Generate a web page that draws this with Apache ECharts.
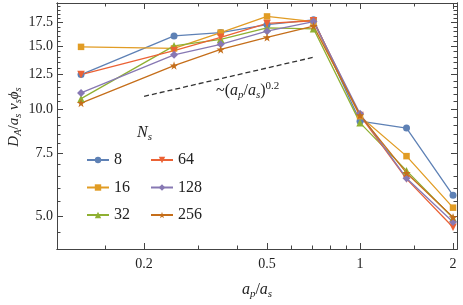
<!DOCTYPE html>
<html><head><meta charset="utf-8">
<script src="https://cdn.jsdelivr.net/npm/echarts@6/dist/echarts.min.js"></script>
<style>html,body{margin:0;padding:0;background:#fff}#c{width:463px;height:305px}</style>
</head><body><div id="c"></div>
<script>
// ---- data ----
const xValues = [0.125, 0.25, 0.354, 0.5, 0.707, 1, 1.414, 2];
const seriesNames = ['8', '16', '32', '64', '128', '256'];
const ns8   = [12.5, 16.05, 16.4, 17.25, 17.8, 9.25, 8.85, 5.73];
const ns16  = [14.95, 14.8, 16.4, 18.2, 17.6, 9.55, 7.38, 5.29];
const ns32  = [10.7, 15.05, 15.7, 16.9, 16.8, 9.15, 6.72, 4.95];
const ns64  = [12.5, 14.6, 15.9, 17.4, 17.7, 9.6, 6.37, 4.66];
const ns128 = [11.1, 14.2, 15.2, 16.55, 17.6, 9.7, 6.4, 4.82];
const ns256 = [10.4, 13.25, 14.7, 15.9, 17.1, 9.62, 6.62, 4.97];
const guideX = [0.2, 0.707];
const guideY = [10.86, 13.98];
const xMajorTicks = [0.2, 0.5, 1, 2];
const xMinorTicks = [0.15, 0.3, 0.4, 0.6, 0.7, 0.8, 0.9, 1.5];
const yMajorTicks = [5, 7.5, 10, 12.5, 15, 17.5];
const yMinorTicks = [4.5, 5.5, 6, 6.5, 7, 8, 8.5, 9, 9.5, 10.5, 11, 11.5, 12, 13, 13.5, 14, 14.5, 15.5, 16, 16.5, 17, 18, 18.5, 19, 19.5];

const allSeries = [ns8, ns16, ns32, ns64, ns128, ns256];
const colors = ['#5E81B5', '#E19C24', '#8FB032', '#EB6235', '#8778B3', '#C56E1A'];
const STAR = 'path://M50,0 L61,35 L98,35 L68,57 L79,91 L50,70 L21,91 L32,57 L2,35 L39,35 Z';
const symbols = [['circle', 7, 0], ['rect', 6.5, 0], ['triangle', 7.5, 0], ['triangle', 7.5, 180], ['diamond', 8, 0], [STAR, 8.5, 0]];

const XMIN = 0.1045, XMAX = 2.06, YMIN = 4.05, YMAX = 19.85;
const FONT = 'Liberation Serif';
const frame = '#444';

function xAx(pos, ticks, len, labels) {
  return {
    type: 'log', logBase: 10, min: XMIN, max: XMAX, position: pos,
    axisLine: { show: true, onZero: false, lineStyle: { color: frame, width: 1 } },
    axisTick: { show: true, inside: true, length: len, customValues: ticks, lineStyle: { color: frame } },
    axisLabel: labels ? { show: true, customValues: ticks, fontFamily: FONT, fontSize: 14, color: '#222', margin: 8,
      formatter: v => String(+v.toFixed(3)) } : { show: false },
    splitLine: { show: false }, minorTick: { show: false }
  };
}
function yAx(pos, ticks, len, labels) {
  return {
    type: 'log', logBase: 10, min: YMIN, max: YMAX, position: pos,
    axisLine: { show: true, onZero: false, lineStyle: { color: frame, width: 1 } },
    axisTick: { show: true, inside: true, length: len, customValues: ticks, lineStyle: { color: frame } },
    axisLabel: labels ? { show: true, customValues: ticks, fontFamily: FONT, fontSize: 14, color: '#222', margin: 4,
      formatter: v => (+v).toFixed(1) } : { show: false },
    splitLine: { show: false }, minorTick: { show: false }
  };
}

const xAxes = [xAx('bottom', xMajorTicks, 6, true), xAx('bottom', xMinorTicks, 3.5, false),
               xAx('top', xMajorTicks, 6, false), xAx('top', xMinorTicks, 3.5, false)];
const yAxes = [yAx('left', yMajorTicks, 6, true), yAx('left', yMinorTicks, 3.5, false),
               yAx('right', yMajorTicks, 6, false), yAx('right', yMinorTicks, 3.5, false)];

const richBase = (fs, sfs) => ({
  i: { fontFamily: FONT, fontStyle: 'italic', fontSize: fs, lineHeight: 20, color: '#222', fill: '#222' },
  n: { fontFamily: FONT, fontSize: fs, lineHeight: 20, color: '#222', fill: '#222' },
  sub: { fontFamily: FONT, fontStyle: 'italic', fontSize: sfs, lineHeight: 10, verticalAlign: 'bottom', color: '#222', fill: '#222' },
  sup: { fontFamily: FONT, fontSize: sfs, lineHeight: 10, verticalAlign: 'top', color: '#222', fill: '#222' }
});

xAxes[0].name = '{i|a}{sub|p}{n|/}{i|a}{sub|s}';
xAxes[0].nameLocation = 'middle';
xAxes[0].nameGap = 31;
xAxes[0].nameTextStyle = { fontFamily: FONT, fontSize: 16, color: '#222', rich: richBase(16, 11) };

const lineSeries = allSeries.map((vals, k) => ({
  name: seriesNames[k], type: 'line', xAxisIndex: 0, yAxisIndex: 0,
  data: xValues.map((x, i) => [x, vals[i]]),
  symbol: symbols[k][0], symbolSize: symbols[k][1], symbolRotate: symbols[k][2],
  showSymbol: true, animation: false,
  lineStyle: { color: colors[k], width: 1.3 }, itemStyle: { color: colors[k] }
}));
lineSeries.push({
  name: 'guide', type: 'line', xAxisIndex: 0, yAxisIndex: 0,
  data: guideX.map((x, i) => [x, guideY[i]]), symbol: 'none', animation: false,
  lineStyle: { color: '#333', width: 1.3, type: [5, 3] }
});

const legendBase = {
  orient: 'vertical', itemWidth: 22, itemHeight: 8, itemGap: 11.5, top: 152, padding: 0,
  textStyle: { fontFamily: FONT, fontSize: 16, color: '#222', lineHeight: 16 },
  selectedMode: false
};

const chart = echarts.init(document.getElementById('c'), null, { renderer: 'canvas' });
chart.setOption({
  animation: false,
  backgroundColor: '#fff',
  grid: { left: 57, right: 6, top: 3, bottom: 53, containLabel: false },
  xAxis: xAxes, yAxis: yAxes,
  legend: [
    Object.assign({}, legendBase, { left: 86, data: seriesNames.slice(0, 3) }),
    Object.assign({}, legendBase, { left: 150, data: seriesNames.slice(3) })
  ],
  series: lineSeries,
  graphic: [
    { type: 'text', x: 14, y: 117, rotation: Math.PI / 2, style: {
      text: '{i|D}{sub|A}{n|/}{i|a}{sub|s}{i| v}{sub|s}{i|ϕ}{sub|s}', align: 'center', verticalAlign: 'middle',
      rich: richBase(15, 10.5) } },
    { type: 'text', left: 137, top: 125, style: { text: '{i|N}{sub|s}', rich: richBase(16, 11) } },
    { type: 'text', left: 216, top: 81, style: { text: '{n|~(}{i|a}{sub|p}{n|/}{i|a}{sub|s}{n|)}{sup|0.2}',
      rich: richBase(16, 11) } }
  ]
});
</script></body></html>
